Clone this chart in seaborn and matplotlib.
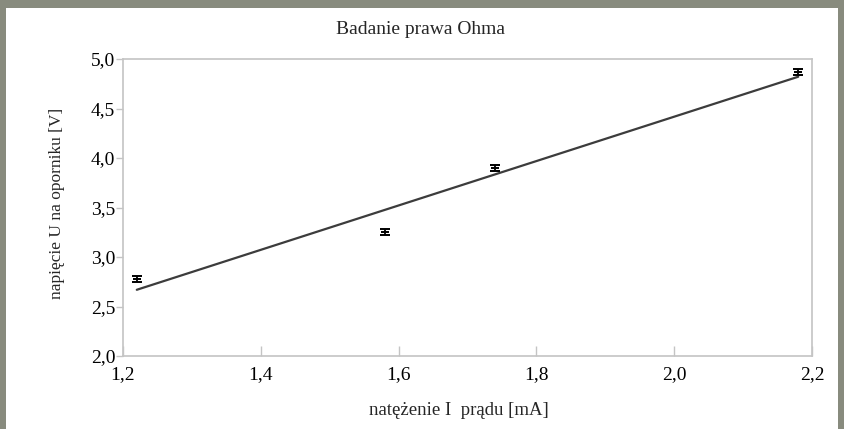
import numpy as np
import matplotlib
matplotlib.use('Agg')
import matplotlib.pyplot as plt
import seaborn as sns
import pandas as pd
from matplotlib.ticker import FuncFormatter
from matplotlib.patches import Rectangle

# measured data
current = [1.22, 1.58, 1.74, 2.18]      # I [mA]
voltage = [2.78, 3.25, 3.90, 4.87]      # U [V]
current_err = [0.006, 0.006, 0.006, 0.006]
voltage_err = [0.03, 0.03, 0.03, 0.03]

df = pd.DataFrame({'I': current, 'U': voltage})

sns.set_theme(style='white')
plt.rcParams['font.family'] = ['Liberation Serif', 'DejaVu Serif']

fig = plt.figure(figsize=(8.44, 4.29), dpi=100)
fig.patch.set_facecolor('#888b7e')
fig.add_artist(Rectangle((6 / 844, 0), 832 / 844, 1 - 8 / 429,
                         transform=fig.transFigure, facecolor='white',
                         edgecolor='none', zorder=0))

ax = fig.add_axes([123 / 844, 1 - 356 / 429, 689 / 844, 297 / 429])
ax.set_facecolor('white')

# fitted line
sns.regplot(x='I', y='U', data=df, ax=ax, scatter=False, ci=None,
            truncate=True, line_kws={'color': '#3c3c3c', 'lw': 1.6})

# measurement points with error bars
ax.errorbar(current, voltage, yerr=voltage_err, fmt='none',
            ecolor='black', elinewidth=1.3, capsize=3.5, capthick=1.4)
ax.errorbar(current, voltage, xerr=current_err, fmt='none',
            ecolor='black', elinewidth=1.4, capsize=0)

ax.set_xlim(1.2, 2.2)
ax.set_ylim(2.0, 5.0)
ax.set_xticks([1.2, 1.4, 1.6, 1.8, 2.0, 2.2])
ax.set_yticks([2.0, 2.5, 3.0, 3.5, 4.0, 4.5, 5.0])
comma = FuncFormatter(lambda v, p: f'{v:.1f}'.replace('.', ','))
ax.xaxis.set_major_formatter(comma)
ax.yaxis.set_major_formatter(comma)

for s in ax.spines.values():
    s.set_visible(True)
    s.set_color('#c4c4c4')
    s.set_linewidth(1.2)

ax.tick_params(axis='x', direction='in', length=7, width=1, colors='#c4c4c4',
               labelsize=14, pad=7, labelcolor='black')
ax.tick_params(axis='y', direction='out', length=5, width=1, colors='#c4c4c4',
               labelsize=14, pad=0.5, labelcolor='black')
ax.tick_params(bottom=True, left=True)

fig.text(421 / 844, 1 - 30 / 429, 'Badanie prawa Ohma', fontsize=14,
         ha='center', va='center')
ax.set_xlabel('natężenie I  prądu [mA]', fontsize=13.5, va='center')
ax.xaxis.set_label_coords(0.488, -0.182)
ax.set_ylabel('napięcie U na oporniku [V]', fontsize=12.5, va='center')
ax.yaxis.set_label_coords(-0.096, 0.515)

fig.savefig('out.png', dpi=100, facecolor=fig.get_facecolor())
